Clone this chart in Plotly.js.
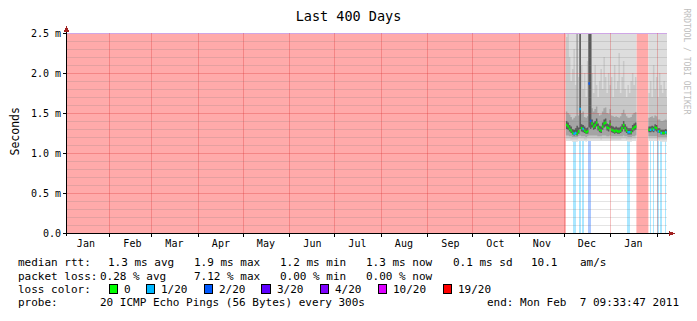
<!DOCTYPE html>
<html><head><meta charset="utf-8">
<script src="https://cdn.plot.ly/plotly-3.0.1.min.js"></script>
<style>html,body{margin:0;padding:0;background:#fff}#chart{width:697px;height:321px}</style>
</head><body><div id="chart"></div>
<script>
// ---------------- data ----------------
const rangeStart = '2010-01-03 09:33:47';
const rangeEnd   = '2011-02-07 09:33:47';
const monthLabels = ['Jan','Feb','Mar','Apr','May','Jun','Jul','Aug','Sep','Oct','Nov','Dec','Jan'];
const monthLabelDates = ['2010-01-16','2010-02-16','2010-03-16','2010-04-16','2010-05-16','2010-06-16',
  '2010-07-16','2010-08-16','2010-09-16','2010-10-16','2010-11-16','2010-12-16','2011-01-16'];
const monthStarts = ['2010-02-01','2010-03-01','2010-04-01','2010-05-01','2010-06-01','2010-07-01',
  '2010-08-01','2010-09-01','2010-10-01','2010-11-01','2010-12-01','2011-01-01','2011-02-01'];
const yTickVals = [0, 0.5, 1.0, 1.5, 2.0, 2.5];
const yTickText = ['0.0', '0.5 m', '1.0 m', '1.5 m', '2.0 m', '2.5 m'];
const yTop = 2.5;

// periods without data (drawn as 19/20 loss)
const noDataStart = ['2010-01-01 00:00', '2011-01-18 00:00'];
const noDataEnd   = ['2010-12-02 00:00', '2011-01-26 00:00'];

// daily values (ms) starting 2010-12-02, one per day, null = no data
const firstDay = '2010-12-02';
const N = null;
const median = [1.35,1.33,1.30,1.28,1.25,1.24,1.25,1.24,1.27,1.55,
  1.31,1.30,1.28,1.26,1.27,1.87,1.40,1.37,1.33,1.35,
  1.38,1.32,1.29,1.28,1.33,1.37,1.38,1.32,1.31,1.36,
  1.29,1.28,1.27,1.28,1.27,1.27,1.28,1.31,1.35,1.31,
  1.28,1.26,1.26,1.26,1.30,1.32,1.33, N,N,N,N,N,N,N,N,
  1.29,1.29,1.30,1.29,1.32,1.31,1.27,1.27,1.25,1.25,1.25,1.26,1.25];
const ping40 = [1.30,1.29,1.27,1.25,1.23,1.22,1.23,1.22,1.24,1.30,
  1.27,1.26,1.25,1.24,1.24,1.32,1.30,1.32,1.29,1.30,
  1.33,1.28,1.26,1.25,1.29,1.32,1.33,1.28,1.27,1.31,
  1.26,1.25,1.24,1.25,1.24,1.24,1.25,1.27,1.30,1.27,
  1.25,1.23,1.23,1.23,1.26,1.28,1.29, N,N,N,N,N,N,N,N,
  1.26,1.26,1.27,1.26,1.28,1.27,1.25,1.25,1.23,1.23,1.23,1.24,1.23];
const ping60 = [1.40,1.38,1.35,1.33,1.30,1.29,1.31,1.34,1.32,2.70,
  1.36,1.35,1.33,1.31,1.32,2.80,2.60,1.42,1.38,1.40,
  1.43,1.37,1.34,1.33,1.38,1.42,1.43,1.37,1.36,1.41,
  1.34,1.33,1.32,1.33,1.32,1.32,1.33,1.36,1.40,1.36,
  1.33,1.31,1.31,1.31,1.35,1.37,1.38, N,N,N,N,N,N,N,N,
  1.33,1.33,1.34,1.33,1.36,1.35,1.31,1.31,1.29,1.29,1.29,1.30,1.29];
const ping25 = [1.22,1.22,1.21,1.21,1.20,1.20,1.20,1.20,1.21,1.22,
  1.21,1.21,1.21,1.20,1.21,1.22,1.22,1.22,1.22,1.22,
  1.22,1.21,1.21,1.21,1.22,1.22,1.22,1.21,1.21,1.22,
  1.21,1.21,1.21,1.21,1.21,1.21,1.21,1.21,1.22,1.21,
  1.21,1.20,1.20,1.20,1.21,1.21,1.22, N,N,N,N,N,N,N,N,
  1.21,1.21,1.21,1.21,1.21,1.21,1.20,1.20,1.20,1.20,1.20,1.20,1.20];
const ping75 = [1.52,1.50,1.48,1.45,1.42,1.44,1.46,2.60,1.47,2.80,
  1.50,1.52,1.45,1.44,1.46,2.90,2.80,1.56,1.52,1.55,
  1.58,1.50,1.47,1.48,1.52,1.56,1.57,1.50,1.49,1.55,
  1.47,1.46,1.45,1.46,1.45,1.44,1.46,1.50,1.54,1.49,
  1.46,1.44,1.44,1.45,1.48,1.50,1.51, N,N,N,N,N,N,N,N,
  1.44,1.45,1.46,1.44,1.47,1.46,1.42,1.42,1.40,1.40,1.41,1.42,1.41];
const ping10 = [1.18,1.18,1.18,1.17,1.17,1.17,1.17,1.17,1.18,1.18,
  1.18,1.18,1.17,1.17,1.18,1.18,1.18,1.18,1.18,1.18,
  1.18,1.18,1.18,1.17,1.18,1.18,1.18,1.18,1.18,1.18,
  1.17,1.17,1.17,1.17,1.17,1.17,1.17,1.18,1.18,1.18,
  1.17,1.17,1.17,1.17,1.18,1.18,1.18, N,N,N,N,N,N,N,N,
  1.18,1.18,1.18,1.18,1.18,1.18,1.17,1.17,1.17,1.17,1.17,1.17,1.17];
const ping90 = [2.45,2.60,2.20,1.90,2.05,2.30,1.85,2.80,1.95,2.90,
  2.10,1.80,2.00,1.70,2.15,3.00,2.90,2.00,1.75,2.10,
  1.85,1.70,1.90,2.05,1.80,2.20,1.95,1.75,2.00,1.85,
  1.95,1.70,2.10,1.80,1.90,2.25,1.75,1.95,2.15,1.80,
  1.70,1.85,1.75,1.90,2.00,1.85,1.95, N,N,N,N,N,N,N,N,
  1.75,1.90,1.70,2.10,1.80,1.95,1.70,2.00,1.85,1.75,1.90,1.80,1.70];
const ping0 = [1.15,1.15,1.15,1.15,1.14,1.14,1.14,1.14,1.15,1.15,
  1.15,1.15,1.15,1.14,1.15,1.15,1.15,1.15,1.15,1.15,
  1.15,1.15,1.15,1.15,1.15,1.15,1.15,1.15,1.15,1.15,
  1.15,1.15,1.15,1.15,1.15,1.15,1.15,1.15,1.15,1.15,
  1.15,1.14,1.14,1.14,1.15,1.15,1.15, N,N,N,N,N,N,N,N,
  1.15,1.15,1.15,1.15,1.15,1.15,1.15,1.15,1.14,1.14,1.14,1.14,1.14];
const ping100 = [2.9,3.0,2.8,2.7,2.8,2.9,2.7,3.0,2.8,3.2,
  2.8,2.7,2.8,2.7,2.9,3.3,3.1,2.8,2.7,2.8,
  2.7,2.7,2.8,2.8,2.7,2.9,2.8,2.7,2.8,2.8,
  2.8,2.7,2.9,2.7,2.8,2.9,2.7,2.8,2.9,2.7,
  2.7,2.8,2.7,2.8,2.8,2.8,2.8, N,N,N,N,N,N,N,N,
  2.8,2.9,2.7,2.8,2.8,2.8,2.7,2.8,2.8,2.7,2.8,2.8,2.7];
// lost pings out of 20 per day
const lossPerDay = [0,0,0,0,0,1,1,0,0,1,
  0,1,0,0,0,2,2,0,0,0,
  0,0,0,0,0,0,0,0,0,0,
  0,0,0,0,0,0,0,0,0,0,
  0,1,1,0,0,0,0, N,N,N,N,N,N,N,N,
  0,1,0,1,0,0,1,0,1,0,0,1,0];

const lossLevels = [0, 1, 2, 3, 4, 10, 19];
const lossLabels = ['0', '1/20', '2/20', '3/20', '4/20', '10/20', '19/20'];
const lossColors = ['#00ff00', '#00b8ff', '#0059ff', '#5e00ff', '#7e00ff', '#dd00ff', '#ff0000'];

const rttLabel = 'median rtt:';
const rttStats = ['1.3 ms avg', '1.9 ms max', '1.2 ms min', '1.3 ms now', '0.1 ms sd', '10.1', 'am/s'];
const lossLabel = 'packet loss:';
const lossStats = ['0.28 % avg', '7.12 % max', '0.00 % min', '0.00 % now'];
const colorLabel = 'loss color:';
const probeLabel = 'probe:';
const probeText = '20 ICMP Echo Pings (56 Bytes) every 300s';
const endText = 'end: Mon Feb  7 09:33:47 2011';
const titleText = 'Last 400 Days';
const yTitle = 'Seconds';
const watermark = 'RRDTOOL / TOBI OETIKER';

// ---------------- layout constants (pixels) ----------------
const MONO = 'DejaVu Sans Mono';
const L = 67, R = 667, T = 33, B = 233;
const px = v => (v - L) / (R - L);
const py = v => (B - v) / (B - T);
const rttX = [106.7, 193.3, 279.3, 365.3, 452, 529.7, 578.7];
const lossX = [99, 193.3, 279.3, 365.3];
const boxX = [109, 146, 204, 261.5, 320, 378, 443];
const rowY = [262.5, 276, 289.5, 302.5];

// ---------------- helpers ----------------
const DAY = 864e5;
const t0 = new Date(firstDay + 'T00:00:00Z').getTime();
const fmt = t => new Date(t).toISOString().slice(0, 19).replace('T', ' ');
const dayT = (i, h) => t0 + i * DAY + (h || 0) * 36e5;
const parseT = s => new Date(s.replace(' ', 'T') + ':00Z').getTime();
function lighten(hex, a) {
  const n = parseInt(hex.slice(1), 16);
  const c = [(n >> 16) & 255, (n >> 8) & 255, n & 255].map(v => Math.round(v * a + 255 * (1 - a)));
  return 'rgb(' + c.join(',') + ')';
}
function levelIndex(loss) {
  let k = 0;
  for (let j = 0; j < lossLevels.length; j++) if (loss >= lossLevels[j]) k = j;
  return k;
}
// contiguous segments of days with data
const segments = [];
let cur = null;
median.forEach((v, i) => {
  if (v === null) { cur = null; return; }
  if (!cur) { cur = []; segments.push(cur); }
  cur.push(i);
});
function stepSeries(arr, seg) {
  const x = seg.map(i => fmt(dayT(i))).concat([fmt(dayT(seg[seg.length - 1] + 1))]);
  const y = seg.map(i => arr[i]).concat([arr[seg[seg.length - 1]]]);
  return { x, y };
}

const traces = [];
// no-data periods
traces.push({
  type: 'bar',
  x: noDataStart.map((s, k) => fmt((parseT(s) + parseT(noDataEnd[k])) / 2)),
  width: noDataStart.map((s, k) => parseT(noDataEnd[k]) - parseT(s)),
  y: noDataStart.map(() => yTop), base: 0,
  marker: { color: lighten(lossColors[6], 0.335), line: { width: 0 } },
  hoverinfo: 'skip'
});
// loss bars per level
lossLevels.forEach((lv, k) => {
  const idx = lossPerDay.map((v, i) => i).filter(i => lossPerDay[i] && levelIndex(lossPerDay[i]) === k);
  if (!idx.length) return;
  traces.push({
    type: 'bar', x: idx.map(i => fmt(dayT(i, 12))), y: idx.map(() => yTop), base: 0,
    width: idx.map(() => 8 * 36e5),
    marker: { color: lighten(lossColors[k], 0.335), line: { width: 0 } }, hoverinfo: 'skip'
  });
});
// smoke bands
const bands = [[ping0, ping100, '#dddddd'], [ping10, ping90, '#c8c8c8'], [ping25, ping75, '#a4a4a4'], [ping40, ping60, '#5a5a5a']];
bands.forEach(([lo, hi, col]) => {
  segments.forEach(seg => {
    const a = stepSeries(lo, seg), b = stepSeries(hi, seg);
    traces.push({ type: 'scatter', mode: 'lines', x: a.x, y: a.y, line: { width: 0, shape: 'hv' }, hoverinfo: 'skip' });
    traces.push({ type: 'scatter', mode: 'lines', x: b.x, y: b.y, line: { width: 0, shape: 'hv' }, fill: 'tonexty', fillcolor: col, hoverinfo: 'skip' });
  });
});
// median: one short bar per day, coloured by that day's loss
lossLevels.forEach((lv, k) => {
  const x = [], y = [];
  median.forEach((m, i) => {
    if (m === null || levelIndex(lossPerDay[i]) !== k) return;
    x.push(fmt(dayT(i)), fmt(dayT(i + 1)), null); y.push(m, m, null);
  });
  if (x.length) traces.push({ type: 'scatter', mode: 'lines', x, y, line: { width: 2.5, color: lossColors[k] }, connectgaps: false, hoverinfo: 'skip' });
});

// ---------------- shapes (grid drawn above data, like rrdtool) ----------------
const minorGrid = 'rgba(120,120,120,0.2)';
const majorGrid = 'rgba(220,50,50,0.3)';
const shapes = [];
for (let k = 1; k < 25; k++) {
  const v = k / 10;
  shapes.push({ type: 'line', layer: 'above', xref: 'paper', yref: 'y', x0: 0, x1: 1, y0: v, y1: v,
    line: { color: k % 5 === 0 ? majorGrid : minorGrid, width: 1 } });
}
shapes.push({ type: 'line', layer: 'above', xref: 'paper', yref: 'y', x0: 0, x1: 1, y0: yTop, y1: yTop, line: { color: '#cfa6e6', width: 1 } });
monthStarts.forEach(d => shapes.push({ type: 'line', layer: 'above', xref: 'x', yref: 'paper', x0: d, x1: d, y0: 0, y1: 1,
  line: { color: majorGrid, width: 1 } }));
// axis lines + arrows
const arrowCol = '#a02020';
shapes.push({ type: 'line', layer: 'above', xref: 'paper', yref: 'paper', x0: px(66.5), x1: px(66.5), y0: py(236), y1: py(30), line: { color: '#000', width: 1 } });
shapes.push({ type: 'line', layer: 'above', xref: 'paper', yref: 'paper', x0: px(64), x1: px(670), y0: py(233.5), y1: py(233.5), line: { color: '#000', width: 1 } });
shapes.push({ type: 'path', layer: 'above', xref: 'paper', yref: 'paper',
  path: `M ${px(66.5)} ${py(26)} L ${px(64)} ${py(31.5)} L ${px(69)} ${py(31.5)} Z`, fillcolor: arrowCol, line: { width: 0 } });
shapes.push({ type: 'path', layer: 'above', xref: 'paper', yref: 'paper',
  path: `M ${px(675)} ${py(233.5)} L ${px(669)} ${py(231)} L ${px(669)} ${py(236)} Z`, fillcolor: arrowCol, line: { width: 0 } });
// legend boxes
boxX.forEach((bx, k) => shapes.push({ type: 'rect', layer: 'above', xref: 'paper', yref: 'paper',
  x0: px(bx), x1: px(bx + 8.5), y0: py(293.5), y1: py(284.5), fillcolor: lossColors[k], line: { color: '#000', width: 1 } }));

// ---------------- annotations ----------------
const ann = [];
const txt = (s, x, y, opt) => ann.push(Object.assign({ text: s, xref: 'paper', yref: 'paper', x: px(x), y: py(y),
  xanchor: 'left', yanchor: 'middle', showarrow: false, borderpad: 0,
  font: { family: MONO, size: 11, color: '#000' } }, opt || {}));
txt(rttLabel, 16.7, rowY[0]);
rttStats.forEach((s, k) => txt(s, rttX[k], rowY[0]));
txt(lossLabel, 16.7, rowY[1]);
lossStats.forEach((s, k) => txt(s, lossX[k], rowY[1]));
txt(colorLabel, 16.7, rowY[2]);
lossLabels.forEach((s, k) => txt(s, boxX[k] + 14, rowY[2]));
txt(probeLabel, 16.7, rowY[3]);
txt(probeText, 99, rowY[3]);
txt(endText, 680, rowY[3], { xanchor: 'right' });
txt(yTitle, 14.5, 132, { xanchor: 'center', textangle: -90, font: { family: MONO, size: 11.5, color: '#000' } });
txt(watermark, 686.5, 61, { xanchor: 'center', textangle: 90, font: { family: MONO, size: 8, color: '#bdbdbd' } });

const layout = {
  width: 697, height: 321,
  margin: { l: L, r: 697 - R, t: T, b: 321 - B, pad: 0 },
  paper_bgcolor: '#fff', plot_bgcolor: '#fff',
  showlegend: false, hovermode: false, barmode: 'overlay',
  title: { text: titleText, font: { family: MONO, size: 13.5, color: '#000' }, x: 0.5, xanchor: 'center', xref: 'container',
    y: 1 - 16 / 321, yanchor: 'middle', yref: 'container' },
  xaxis: {
    type: 'date', range: [rangeStart, rangeEnd], tickmode: 'array', tickvals: monthLabelDates, ticktext: monthLabels,
    ticks: '', showgrid: false, zeroline: false, showline: false, fixedrange: true, ticklabelstandoff: 3,
    tickfont: { family: MONO, size: 10, color: '#000' },
    minor: { tickmode: 'array', tickvals: monthStarts, ticks: 'outside', ticklen: 3, tickcolor: '#000', showgrid: false }
  },
  yaxis: {
    range: [0, yTop], tickmode: 'array', tickvals: yTickVals, ticktext: yTickText,
    ticks: 'outside', ticklen: 3, tickcolor: '#000', showgrid: false, zeroline: false, showline: false, fixedrange: true,
    tickfont: { family: MONO, size: 10, color: '#000' }
  },
  shapes, annotations: ann
};

Plotly.newPlot('chart', traces, layout, { displayModeBar: false }).then(() => {
  document.querySelectorAll('.shapelayer path').forEach(p => p.style.shapeRendering = 'crispEdges');
});
</script></body></html>
